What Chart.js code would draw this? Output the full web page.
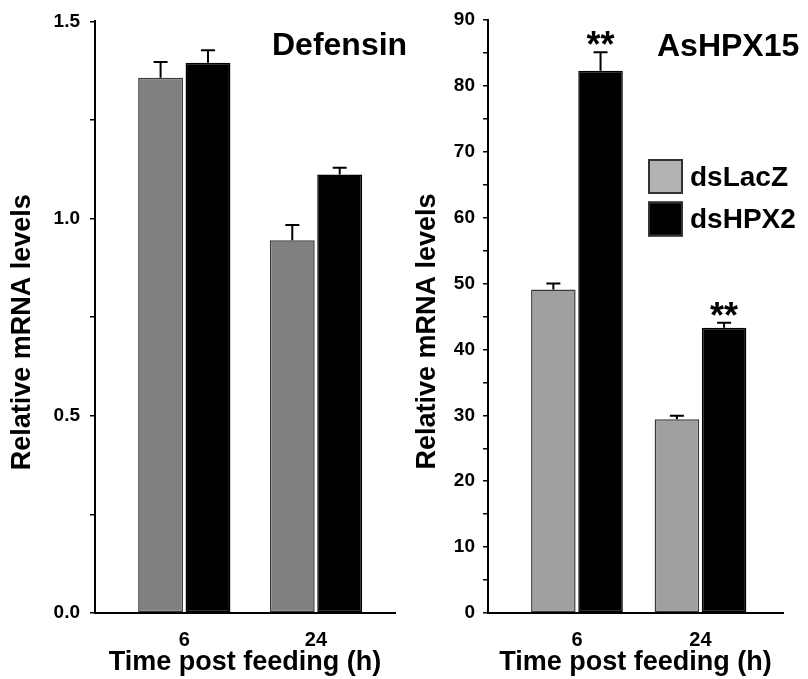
<!DOCTYPE html>
<html>
<head>
<meta charset="utf-8">
<script src="https://cdn.jsdelivr.net/npm/chart.js@4"></script>
<style>
  html, body { margin: 0; padding: 0; background: #fff; }
  #wrap { position: relative; width: 808px; height: 679px; }
  canvas { position: absolute; top: 0; }
</style>
</head>
<body>
<div id="wrap">
  <canvas id="graficoDefensin" width="410" height="679" style="left:0"></canvas>
  <canvas id="graficoHPX15" width="408" height="679" style="left:400px"></canvas>
</div>
<script>
// dados
var categorias = ['6', '24'];
var nomesSeries = ['dsLacZ', 'dsHPX2'];

var defensinLacZ = [1.357, 0.945];
var defensinLacZErro = [0.040, 0.039];
var defensinHPX2 = [1.395, 1.112];
var defensinHPX2Erro = [0.032, 0.017];

var hpx15LacZ = [49.1, 29.4];
var hpx15LacZErro = [0.9, 0.55];
var hpx15HPX2 = [82.3, 43.3];
var hpx15HPX2Erro = [2.8, 0.75];
var hpx15HPX2Signif = ['**', '**'];

var tituloEixoX = 'Time post feeding (h)';
var tituloEixoY = 'Relative mRNA levels';

Chart.defaults.font.family = '"Liberation Sans", Arial, sans-serif';
Chart.defaults.color = '#000';

function pontos(valores) {
    return valores.map(function(v, i) { return { x: i, y: v }; });
}

// barras de erro (só para cima) + asteriscos
var pluginErros = {
    id: 'barrasErro',
    afterDatasetsDraw: function(chart) {
        var ctx = chart.ctx;
        var escalaY = chart.scales.y;
        chart.data.datasets.forEach(function(ds, i) {
            var meta = chart.getDatasetMeta(i);
            meta.data.forEach(function(barra, j) {
                var topo = escalaY.getPixelForValue(ds.data[j].y + ds.erros[j]);
                ctx.save();
                ctx.strokeStyle = '#000';
                ctx.lineWidth = 2;
                ctx.beginPath();
                ctx.moveTo(barra.x, barra.y);
                ctx.lineTo(barra.x, topo);
                ctx.moveTo(barra.x - 7, topo);
                ctx.lineTo(barra.x + 7, topo);
                ctx.stroke();
                if (ds.signif && ds.signif[j]) {
                    ctx.fillStyle = '#000';
                    ctx.font = 'bold 36px "Liberation Sans", Arial, sans-serif';
                    ctx.textAlign = 'center';
                    ctx.textBaseline = 'alphabetic';
                    ctx.fillText(ds.signif[j], barra.x, topo + 5);
                }
                ctx.restore();
            });
        });
    }
};

// titulo do painel e legenda desenhados dentro do gráfico
var pluginTextos = {
    id: 'textosPainel',
    afterDraw: function(chart, args, opts) {
        var ctx = chart.ctx;
        ctx.save();
        ctx.fillStyle = '#000';
        ctx.font = 'bold 32px "Liberation Sans", Arial, sans-serif';
        ctx.textAlign = 'left';
        ctx.textBaseline = 'alphabetic';
        ctx.fillText(opts.titulo, opts.tituloX, opts.tituloY);
        if (opts.legenda) {
            var leg = opts.legenda;
            ctx.font = 'bold 28px "Liberation Sans", Arial, sans-serif';
            ctx.textBaseline = 'middle';
            leg.itens.forEach(function(item, k) {
                var y = leg.y + k * 42.5;
                ctx.fillStyle = item.cor;
                ctx.fillRect(leg.x, y, 35, 35);
                ctx.strokeStyle = '#333';
                ctx.lineWidth = 2;
                ctx.strokeRect(leg.x + 1, y + 1, 33, 33);
                ctx.fillStyle = '#000';
                ctx.fillText(item.texto, leg.x + 42, y + 19);
            });
        }
        ctx.restore();
    }
};

function criarPainel(idCanvas, cfg) {
    var ctx = document.getElementById(idCanvas).getContext('2d');
    return new Chart(ctx, {
        type: 'bar',
        data: {
            datasets: [{
                label: nomesSeries[0],
                data: pontos(cfg.lacZ),
                erros: cfg.lacZErro,
                backgroundColor: cfg.corLacZ,
                borderColor: '#3a3a3a',
                borderWidth: 1.5,
                borderSkipped: false,
                categoryPercentage: cfg.catPct,
                barPercentage: cfg.barPct
            }, {
                label: nomesSeries[1],
                data: pontos(cfg.hpx2),
                erros: cfg.hpx2Erro,
                signif: cfg.signif,
                backgroundColor: '#000',
                borderColor: '#000',
                borderWidth: 1.5,
                borderSkipped: false,
                categoryPercentage: cfg.catPct,
                barPercentage: cfg.barPct
            }]
        },
        options: {
            responsive: false,
            animation: false,
            layout: { padding: { top: 20, right: cfg.padDireita, bottom: 0, left: 0 } },
            plugins: {
                legend: { display: false },
                tooltip: { enabled: false },
                textosPainel: {
                    titulo: cfg.titulo,
                    tituloX: cfg.tituloX,
                    tituloY: cfg.tituloY,
                    legenda: cfg.legenda
                }
            },
            scales: {
                x: {
                    type: 'linear',
                    min: cfg.xMin,
                    max: cfg.xMax,
                    offset: false,
                    afterBuildTicks: function(s) {
                        s.ticks = categorias.map(function(c, i) { return { value: i }; });
                    },
                    afterFit: function(s) { s.height = 66; },
                    ticks: {
                        callback: function(v) { return categorias[Math.round(v)]; },
                        font: { size: 20, weight: 'bold' },
                        padding: 15,
                        maxRotation: 0
                    },
                    grid: { display: false, drawTicks: false, offset: false },
                    border: { display: true, color: '#000', width: 2 },
                    title: {
                        display: true,
                        text: tituloEixoX,
                        font: { size: 27, weight: 'bold' },
                        padding: { top: 0, bottom: 0 }
                    }
                },
                y: {
                    min: 0,
                    max: cfg.yMax,
                    afterFit: function(s) { s.width = cfg.larguraY; },
                    ticks: {
                        stepSize: cfg.passo,
                        callback: cfg.rotulo,
                        font: { size: 19, weight: 'bold' },
                        padding: cfg.padTicks
                    },
                    grid: { drawOnChartArea: false, drawTicks: true, tickLength: 5, color: '#000', lineWidth: 1.5 },
                    border: { display: true, color: '#000', width: 2 },
                    title: {
                        display: true,
                        text: tituloEixoY + '    ',
                        font: { size: 27, weight: 'bold' },
                        padding: { top: cfg.padTituloY, bottom: 0 }
                    }
                }
            }
        },
        plugins: [pluginErros, pluginTextos]
    });
}

criarPainel('graficoDefensin', {
    lacZ: defensinLacZ, lacZErro: defensinLacZErro,
    hpx2: defensinHPX2, hpx2Erro: defensinHPX2Erro,
    signif: null,
    corLacZ: '#808080',
    catPct: 0.72, barPct: 0.947,
    xMin: -0.678, xMax: 1.6,
    yMax: 1.5, passo: 0.25,
    rotulo: function(v) { return Math.round(v * 100) % 50 === 0 ? v.toFixed(1) : ''; },
    larguraY: 95, padDireita: 15, padTicks: 10, padTituloY: 6,
    titulo: 'Defensin', tituloX: 272, tituloY: 55,
    legenda: null
});

criarPainel('graficoHPX15', {
    lacZ: hpx15LacZ, lacZErro: hpx15LacZErro,
    hpx2: hpx15HPX2, hpx2Erro: hpx15HPX2Erro,
    signif: hpx15HPX2Signif,
    corLacZ: '#a0a0a0',
    catPct: 0.764, barPct: 0.944,
    xMin: -0.72, xMax: 1.668,
    yMax: 90, passo: 5,
    rotulo: function(v) { return v % 10 === 0 ? String(v) : ''; },
    larguraY: 88, padDireita: 25, padTicks: 8, padTituloY: 11,
    titulo: 'AsHPX15', tituloX: 257, tituloY: 56,
    legenda: {
        x: 248, y: 159,
        itens: [
            { texto: nomesSeries[0], cor: '#b2b2b2' },
            { texto: nomesSeries[1], cor: '#000' }
        ]
    }
});
</script>
</body>
</html>
